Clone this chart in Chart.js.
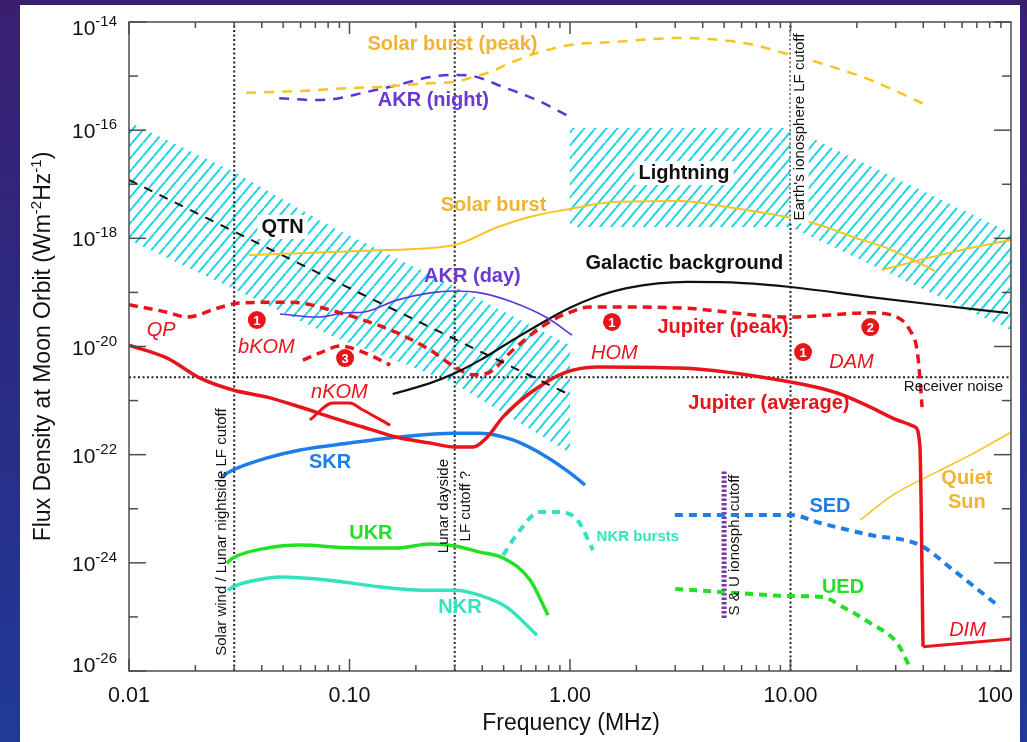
<!DOCTYPE html>
<html>
<head>
<meta charset="utf-8">
<script src="https://cdn.jsdelivr.net/npm/chart.js@4.4.1/dist/chart.umd.min.js"></script>
<style>
  html, body { margin: 0; padding: 0; width: 1027px; height: 742px; overflow: hidden; }
  body { position: relative; background: linear-gradient(to bottom, #3a1f70 0%, #2b2a82 45%, #213a98 100%); }
  #panel { position: absolute; left: 20px; top: 5px; width: 1000px; height: 737px; background: #fff; }
  #c { position: absolute; left: 0; top: 0; }
</style>
</head>
<body>
<div id="panel"></div>
<canvas id="c" width="1027" height="742"></canvas>
<script>
// ---- Spectra: [frequency (MHz), flux density (W m^-2 Hz^-1)] ----
const solarBurstPeak = [[0.034,4.9e-16],[0.06,5.3e-16],[0.1,6.0e-16],[0.137,6.3e-16],[0.232,7.4e-16],[0.3,7.8e-16],[0.352,9.2e-16],[0.434,1.19e-15],[0.535,1.75e-15],[0.708,2.67e-15],[1,3.76e-15],[1.57,4.27e-15],[3.16,5.06e-15],[4.79,4.65e-15],[6.76,3.8e-15],[10,2.45e-15],[13.6,1.75e-15],[23,8.5e-16],[43,2.7e-16]];
const akrNight = [[0.048,3.9e-16],[0.07,3.6e-16],[0.09,3.9e-16],[0.115,4.9e-16],[0.164,6.8e-16],[0.232,9.6e-16],[0.3,1.05e-15],[0.363,1.0e-15],[0.497,6.3e-16],[0.708,3.6e-16],[1,1.75e-16]];
const solarBurst = [[0.035,4.9e-19],[0.084,5.6e-19],[0.148,6.1e-19],[0.3,7.5e-19],[0.467,1.6e-18],[0.66,2.5e-18],[1,3.5e-18],[1.57,4.7e-18],[3.16,4.9e-18],[5.15,3.8e-18],[10,2.4e-18],[13.6,1.76e-18],[19.2,1.06e-18],[27.4,6.6e-19],[36,4.0e-19],[45,2.5e-19]];
const solarBurstHigh = [[26,2.6e-19],[38.6,4.0e-19],[65.2,6.6e-19],[100,9.3e-19]];
const qtn = [[0.01,1.2e-17],[0.1,1.2e-19],[1,1.27e-21]];
const akrDay = [[0.0484,4.0e-20],[0.0713,3.5e-20],[0.0975,4.2e-20],[0.115,4.3e-20],[0.164,7.2e-20],[0.232,9.8e-20],[0.3,1.06e-19],[0.391,9.8e-20],[0.551,6.6e-20],[0.787,3.4e-20],[1.02,1.63e-20]];
const galactic = [[0.157,1.32e-21],[0.232,2.1e-21],[0.3,3.2e-21],[0.391,5.6e-21],[0.551,1.32e-20],[0.787,3.1e-20],[1,5.2e-20],[1.27,7.9e-20],[1.81,1.2e-19],[3.4,1.56e-19],[6.09,1.49e-19],[10,1.26e-19],[23,8.2e-20],[46.1,5.85e-20],[96.8,4.16e-20]];
const jupiterPeak = [[0.01,5.9e-20],[0.0149,4.3e-20],[0.0183,3.5e-20],[0.0251,5.1e-20],[0.0319,6.4e-20],[0.05,6.6e-20],[0.06,6.4e-20],[0.082,4.7e-20],[0.115,3.1e-20],[0.164,1.8e-20],[0.232,8.6e-21],[0.3,4.2e-21],[0.363,3.0e-21],[0.421,3.2e-21],[0.551,8.6e-21],[0.708,2.0e-20],[0.873,3.4e-20],[1,4.3e-20],[1.23,5.4e-20],[3.16,5.15e-20],[10,3.5e-20],[23,4.2e-20],[30.4,3.5e-20],[34.8,2.0e-20],[37.5,8.6e-21],[38.7,2.4e-21],[39.5,7.6e-22]];
const nkomPeak = [[0.0615,5.6e-21],[0.0735,7.6e-21],[0.0906,1.02e-20],[0.115,7.9e-21],[0.153,4.55e-21]];
const jupiterAverage = [[0.01,1.06e-20],[0.0149,6.1e-21],[0.021,2.6e-21],[0.0296,1.57e-21],[0.0423,1.16e-21],[0.0597,7.6e-22],[0.0841,4.8e-22],[0.115,3.25e-22],[0.164,2.1e-22],[0.232,1.64e-22],[0.3,1.38e-22],[0.363,1.38e-22],[0.421,2.1e-22],[0.497,5.0e-22],[0.659,1.38e-21],[0.929,3.2e-21],[1.32,4.2e-21],[3.16,4.0e-21],[10,2.2e-21],[16.3,1.38e-21],[23,7.6e-22],[32.4,4.0e-22],[36.7,3.25e-22],[38.6,1.5e-22],[39.9,2.8e-26]];
const dim = [[39.9,2.8e-26],[100,3.9e-26]];
const nkomAverage = [[0.0662,4.4e-22],[0.0841,9.0e-22],[0.1,9.0e-22],[0.115,6.7e-22],[0.153,3.5e-22]];
const skr = [[0.0264,4.0e-23],[0.0296,5.2e-23],[0.0423,8.7e-23],[0.0597,1.22e-22],[0.1,1.64e-22],[0.164,2.1e-22],[0.3,2.5e-22],[0.391,2.5e-22],[0.551,1.87e-22],[0.787,9.0e-23],[1,4.6e-23],[1.17,2.75e-23]];
const ukr = [[0.0278,9.9e-25],[0.0296,1.23e-24],[0.0423,1.88e-24],[0.0597,2.13e-24],[0.1,1.9e-24],[0.164,1.88e-24],[0.232,2.23e-24],[0.3,2.05e-24],[0.391,1.58e-24],[0.497,1.23e-24],[0.659,4.8e-25],[0.795,1.08e-25]];
const nkr = [[0.0281,3.1e-25],[0.0296,3.6e-25],[0.0423,5.2e-25],[0.05,5.5e-25],[0.0713,5.0e-25],[0.0906,4.5e-25],[0.137,3.6e-25],[0.232,3.1e-25],[0.3,3.1e-25],[0.391,2.5e-25],[0.518,1.5e-25],[0.708,4.6e-26]];
const nkrBursts = [[0.497,1.39e-24],[0.593,4.0e-24],[0.725,8.7e-24],[0.873,8.7e-24],[1.08,6.2e-24],[1.27,1.73e-24]];
const sed = [[2.99,7.7e-24],[4.94,7.7e-24],[10,7.7e-24],[13.6,5.45e-24],[23,3.27e-24],[38.6,2.13e-24],[54.6,7.4e-25],[89,1.52e-25]];
const ued = [[3,3.3e-25],[5.71,2.77e-25],[10,2.43e-25],[14,2.33e-25],[17.3,1.52e-25],[23,7.7e-26],[30.4,3.3e-26],[34.8,1.18e-26]];
const quietSun = [[20.7,6.2e-24],[29.2,1.8e-23],[46.1,4.8e-23],[65.2,9.8e-23],[100,2.6e-22]];

// ---- Hatched domains (upper / lower flux bounds) ----
const qtnBandFreq = [0.01, 0.03, 0.085, 0.29, 1];
const qtnBandHigh = [1.42e-16, 1.68e-17, 1.55e-18, 1.37e-19, 1.06e-20];
const qtnBandLow  = [9.3e-19, 1.16e-19, 1.5e-20, 2.2e-21, 1.07e-22];
const lightningFreq = [1, 10, 100];
const lightningHigh = [1.1e-16, 1.1e-16, 1.25e-18];
const lightningLow  = [1.62e-18, 1.62e-18, 2.0e-20];

// ---- Cutoffs ----
const lfCutoffs = [0.03, 0.3, 10];       // MHz
const receiverNoise = 2.7e-21;
const suCutoff = [5, 9.5e-26, 5.2e-23];  // MHz, lower flux, upper flux

// ---- Axis ticks ----
const yTickExps = [-14, -16, -18, -20, -22, -24, -26];
const xTickValues = [0.01, 0.1, 1, 10, 100];
const xTickLabels = ['0.01', '0.10', '1.00', '10.00', '100'];

// ---- Colours ----
const RED = '#e8141c', BLACK = '#111111', YELLOW = '#f8c423', ORANGE = '#f2b233';
const PURPLE = '#5a36d8', PURPLE_T = '#6a3ad0', BLUE = '#1c7ee6', GREEN = '#22e022';
const TURQ = '#33e3bd', CYAN = '#1bd3e6', DOT = '#222222', SU = '#7a35a8';
const FONT = '"Liberation Sans", Arial, Helvetica, sans-serif';

// ---- Annotations ----
const numberMarks = [
  { n: '1', f: 0.038, s: 3.09e-20 },
  { n: '3', f: 0.0955, s: 6.1e-21 },
  { n: '1', f: 1.55, s: 2.84e-20 },
  { n: '1', f: 11.4, s: 7.9e-21 },
  { n: '2', f: 23, s: 2.29e-20 }
];
const textLabels = [
  { t: 'Solar burst (peak)', f: 0.293, s: 3.76e-15, c: ORANGE, st: 'bold' },
  { t: 'AKR (night)', f: 0.240, s: 3.61e-16, c: PURPLE_T, st: 'bold' },
  { t: 'Solar burst', f: 0.450, s: 4.13e-18, c: ORANGE, st: 'bold' },
  { t: 'Lightning', f: 3.29, s: 1.61e-17, c: BLACK, st: 'bold', box: true },
  { t: 'QTN', f: 0.0497, s: 1.62e-18, c: BLACK, st: 'bold', box: true },
  { t: 'Galactic background', f: 3.3, s: 3.5e-19, c: BLACK, st: 'bold' },
  { t: 'AKR (day)', f: 0.361, s: 1.93e-19, c: PURPLE_T, st: 'bold' },
  { t: 'QP', f: 0.014, s: 2.02e-20, c: RED, st: 'italic' },
  { t: 'bKOM', f: 0.042, s: 9.77e-21, c: RED, st: 'italic' },
  { t: 'nKOM', f: 0.090, s: 1.44e-21, c: RED, st: 'italic' },
  { t: 'HOM', f: 1.59, s: 7.58e-21, c: RED, st: 'italic' },
  { t: 'Jupiter (peak)', f: 4.94, s: 2.2e-20, c: RED, st: 'bold' },
  { t: 'DAM', f: 18.9, s: 5.16e-21, c: RED, st: 'italic' },
  { t: 'Jupiter (average)', f: 7.98, s: 9.0e-22, c: RED, st: 'bold' },
  { t: 'Receiver noise', f: 54.8, s: 1.78e-21, c: BLACK, st: 'small' },
  { t: 'SKR', f: 0.0817, s: 7.3e-23, c: BLUE, st: 'bold' },
  { t: 'UKR', f: 0.125, s: 3.56e-24, c: GREEN, st: 'bold' },
  { t: 'NKR', f: 0.317, s: 1.52e-25, c: TURQ, st: 'bold' },
  { t: 'NKR bursts', f: 2.03, s: 3.0e-24, c: TURQ, st: 'boldsmall' },
  { t: 'SED', f: 15.1, s: 1.08e-23, c: BLUE, st: 'bold' },
  { t: 'UED', f: 17.3, s: 3.57e-25, c: GREEN, st: 'bold' },
  { t: 'DIM', f: 63.5, s: 5.7e-26, c: RED, st: 'italic' },
  { t: 'Quiet', f: 63.1, s: 3.7e-23, c: ORANGE, st: 'bold' },
  { t: 'Sun', f: 63.1, s: 1.28e-23, c: ORANGE, st: 'bold' }
];
const rotatedLabels = [
  { t: 'Solar wind / Lunar nightside LF cutoff', f: 0.0264, s: 3.7e-24 },
  { t: 'Lunar dayside', f: 0.268, s: 1.12e-23 },
  { t: 'LF cutoff ?', f: 0.337, s: 1.12e-23 },
  { t: "Earth's ionosphere LF cutoff", f: 11.0, s: 1.14e-16, box: true },
  { t: 'S & U ionosph. cutoff', f: 5.6, s: 2.13e-24 }
];

const canvas = document.getElementById('c');
const ctx = canvas.getContext('2d');

// diagonal cyan hatch used for the QTN and lightning domains
function makeHatch() {
  const w = 11, h = 13;
  const tile = document.createElement('canvas');
  tile.width = w; tile.height = h;
  const g = tile.getContext('2d');
  g.strokeStyle = CYAN; g.lineWidth = 2;
  for (const dx of [-w, 0, w]) {
    g.beginPath(); g.moveTo(dx, h); g.lineTo(dx + w, 0); g.stroke();
  }
  return ctx.createPattern(tile, 'repeat');
}
const hatch = makeHatch();

const toXY = a => a.map(p => ({ x: p[0], y: p[1] }));
const zip = (f, s) => f.map((v, i) => [v, s[i]]);

function series(data, color, width, dash, extra) {
  return Object.assign({
    data: toXY(data), borderColor: color, borderWidth: width, borderDash: dash || [],
    pointRadius: 0, fill: false, cubicInterpolationMode: 'monotone', order: 0
  }, extra || {});
}
function straight(data, color, width, dash, order) {
  return series(data, color, width, dash, { cubicInterpolationMode: 'default', tension: 0, order: order });
}
function bandPair(freq, high, low) {
  return [
    { data: toXY(zip(freq, high)), borderColor: 'transparent', borderWidth: 0, pointRadius: 0,
      tension: 0, fill: '+1', backgroundColor: hatch, order: 20 },
    { data: toXY(zip(freq, low)), borderColor: 'transparent', borderWidth: 0, pointRadius: 0,
      tension: 0, fill: false, order: 20 }
  ];
}

const datasets = [
  ...bandPair(qtnBandFreq, qtnBandHigh, qtnBandLow),
  ...bandPair(lightningFreq, lightningHigh, lightningLow),
  ...lfCutoffs.map(f => straight([[f, 1e-26], [f, 1e-14]], DOT, 2, [2, 2.5], 10)),
  straight([[0.01, receiverNoise], [100, receiverNoise]], DOT, 2, [2, 2.5], 10),
  straight([[suCutoff[0], suCutoff[1]], [suCutoff[0], suCutoff[2]]], SU, 5, [2.5, 2], 10),
  series(solarBurstPeak, YELLOW, 2.5, [10, 8]),
  series(akrNight, PURPLE, 2.5, [10, 8]),
  series(solarBurst, YELLOW, 2),
  straight(solarBurstHigh, YELLOW, 2, [], 0),
  straight(qtn, BLACK, 2, [9, 8], 0),
  series(akrDay, PURPLE, 1.6),
  series(galactic, BLACK, 2.2),
  series(jupiterPeak, RED, 3.5, [9, 6]),
  series(nkomPeak, RED, 3.5, [9, 6]),
  series(jupiterAverage, RED, 3.5),
  straight(dim, RED, 3, [], 0),
  series(nkomAverage, RED, 3),
  series(skr, BLUE, 3.5),
  series(ukr, GREEN, 3.5),
  series(nkr, TURQ, 3.5),
  series(nkrBursts, TURQ, 4, [8, 6]),
  series(sed, BLUE, 4, [8, 6]),
  series(ued, GREEN, 4, [8, 6]),
  series(quietSun, YELLOW, 1.6),
  { data: toXY(numberMarks.map(m => [m.f, m.s])), showLine: false, pointRadius: 9,
    pointBackgroundColor: RED, pointBorderColor: RED, pointBorderWidth: 0, order: -1 }
];

// frame, inward ticks, tick labels, axis titles and annotations
const decorations = {
  id: 'decorations',
  afterDatasetsDraw(chart) {
    const { ctx: g, chartArea: a, scales: { x, y } } = chart;
    g.save();
    g.strokeStyle = '#4d4d4d'; g.lineWidth = 1.5; g.setLineDash([]);
    g.strokeRect(a.left, a.top, a.right - a.left, a.bottom - a.top);
    const seg = (x1, y1, x2, y2) => { g.beginPath(); g.moveTo(x1, y1); g.lineTo(x2, y2); g.stroke(); };
    for (let e = -2; e <= 1; e++) {
      for (let m = 1; m <= 9; m++) {
        const px = x.getPixelForValue(m * Math.pow(10, e));
        const len = m === 1 ? 12 : 6;
        seg(px, a.bottom, px, a.bottom - len);
        seg(px, a.top, px, a.top + len);
      }
    }
    for (let e = -26; e <= -14; e++) {
      const py = y.getPixelForValue(Math.pow(10, e));
      const len = e % 2 === 0 ? 17 : 9;
      seg(a.left, py, a.left + len, py);
      seg(a.right, py, a.right - len, py);
    }

    // y tick labels 10^n
    g.fillStyle = BLACK; g.textBaseline = 'alphabetic';
    for (const e of yTickExps) {
      let py = y.getPixelForValue(Math.pow(10, e));
      if (e === -14) py += 5;
      if (e === -26) py -= 7;
      const sup = String(e);
      g.font = '15px ' + FONT; g.textAlign = 'right';
      const sw = g.measureText(sup).width;
      g.fillText(sup, a.left - 12, py - 1);
      g.font = '21px ' + FONT;
      g.fillText('10', a.left - 12 - sw, py + 8);
    }
    // x tick labels
    g.font = '21.5px ' + FONT;
    xTickValues.forEach((v, i) => {
      const px = x.getPixelForValue(v);
      if (i === xTickValues.length - 1) { g.textAlign = 'right'; g.fillText(xTickLabels[i], px + 2, a.bottom + 31); }
      else { g.textAlign = 'center'; g.fillText(xTickLabels[i], px, a.bottom + 31); }
    });
    // x title
    g.font = '23px ' + FONT; g.textAlign = 'center';
    g.fillText('Frequency (MHz)', (a.left + a.right) / 2 + 1, a.bottom + 59);
    // y title with superscripts
    const parts = [['Flux Density at Moon Orbit (Wm', 0], ['-2', 1], ['Hz', 0], ['-1', 1], [')', 0]];
    const fontFor = s => (s ? '15px ' : '23px ') + FONT;
    let total = 0;
    for (const [t, s] of parts) { g.font = fontFor(s); total += g.measureText(t).width; }
    g.save();
    g.translate(42, (a.top + a.bottom) / 2);
    g.rotate(-Math.PI / 2);
    g.textAlign = 'left';
    let u = -total / 2;
    for (const [t, s] of parts) {
      g.font = fontFor(s);
      g.fillText(t, u, s ? -1 : 8);
      u += g.measureText(t).width;
    }
    g.restore();

    // curve labels
    const styleFont = st => ({
      bold: 'bold 20px ', italic: 'italic 20px ', small: '15px ', boldsmall: 'bold 15px '
    }[st] + FONT);
    g.textAlign = 'center'; g.textBaseline = 'middle';
    for (const L of textLabels) {
      const px = x.getPixelForValue(L.f), py = y.getPixelForValue(L.s);
      g.font = styleFont(L.st);
      if (L.box) {
        const w = g.measureText(L.t).width;
        g.fillStyle = '#ffffff';
        g.fillRect(px - w / 2 - 4, py - 12, w + 8, 24);
      }
      g.fillStyle = L.c;
      g.fillText(L.t, px, py);
    }
    // rotated cutoff labels
    g.font = '15px ' + FONT;
    for (const L of rotatedLabels) {
      const px = x.getPixelForValue(L.f), py = y.getPixelForValue(L.s);
      g.save();
      g.translate(px, py); g.rotate(-Math.PI / 2);
      if (L.box) {
        const w = g.measureText(L.t).width;
        g.fillStyle = '#ffffff';
        g.fillRect(-w / 2 - 3, -9, w + 6, 18);
      }
      g.fillStyle = BLACK;
      g.fillText(L.t, 0, 0);
      g.restore();
    }
    // numbers inside the red markers
    const meta = chart.getDatasetMeta(chart.data.datasets.length - 1);
    g.fillStyle = '#ffffff'; g.font = 'bold 13px ' + FONT;
    meta.data.forEach((pt, i) => g.fillText(numberMarks[i].n, pt.x, pt.y + 1));
    g.restore();
  }
};

new Chart(ctx, {
  type: 'line',
  data: { datasets },
  options: {
    responsive: false,
    animation: false,
    devicePixelRatio: 1,
    layout: { padding: { left: 0, top: 22, right: 16, bottom: 0 }, autoPadding: false },
    scales: {
      x: {
        type: 'logarithmic', min: 0.01, max: 100,
        ticks: { display: false }, grid: { display: false }, border: { display: false },
        afterFit(s) { s.height = 71; }
      },
      y: {
        type: 'logarithmic', min: 1e-26, max: 1e-14,
        ticks: { display: false }, grid: { display: false }, border: { display: false },
        afterFit(s) { s.width = 129; }
      }
    },
    plugins: { legend: { display: false }, tooltip: { enabled: false } }
  },
  plugins: [decorations]
});
</script>
</body>
</html>
